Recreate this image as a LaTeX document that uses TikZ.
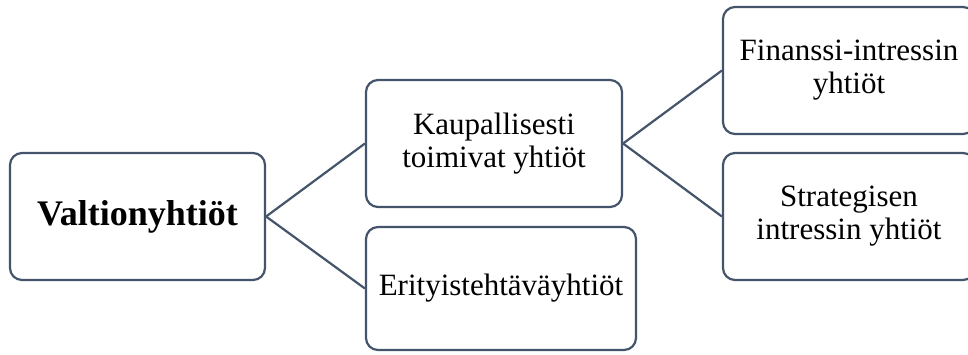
\documentclass[tikz,border=0pt]{standalone}
\usepackage{fontspec}
\setmainfont{Liberation Serif}
\definecolor{edge}{HTML}{44546A}
\begin{document}
\begin{tikzpicture}[x=1pt,y=1pt,
  box/.style={draw=edge, line width=2.2pt, rounded corners=12pt, fill=white,
    inner sep=0pt, align=center, font=\fontsize{31}{33}\selectfont},
  link/.style={draw=edge, line width=2.2pt}]
\useasboundingbox (0,0) rectangle (968,-354);
\clip (0,0) rectangle (968,-354);
\fill[white] (0,0) rectangle (968,-354);
\node[box, minimum width=255pt, minimum height=127pt, font=\fontsize{36}{39}\selectfont\bfseries] (v) at (137.5,-216.5) {Valtionyhtiöt};
\node[box, minimum width=256pt, minimum height=127pt] (k) at (494,-143.5) {Kaupallisesti\\toimivat yhtiöt};
\node[box, minimum width=270pt, minimum height=123pt] (e) at (501,-288.5) {Erityistehtäväyhtiöt};
\node[box, minimum width=252pt, minimum height=127pt] (f) at (849,-70.5) {Finanssi-intressin\\yhtiöt};
\node[box, minimum width=252pt, minimum height=127pt] (s) at (849,-216.5) {Strategisen\\intressin yhtiöt};
\draw[link] (v.east) -- (k.west);
\draw[link] (v.east) -- (e.west);
\draw[link] (k.east) -- (f.west);
\draw[link] (k.east) -- (s.west);
\end{tikzpicture}
\end{document}
